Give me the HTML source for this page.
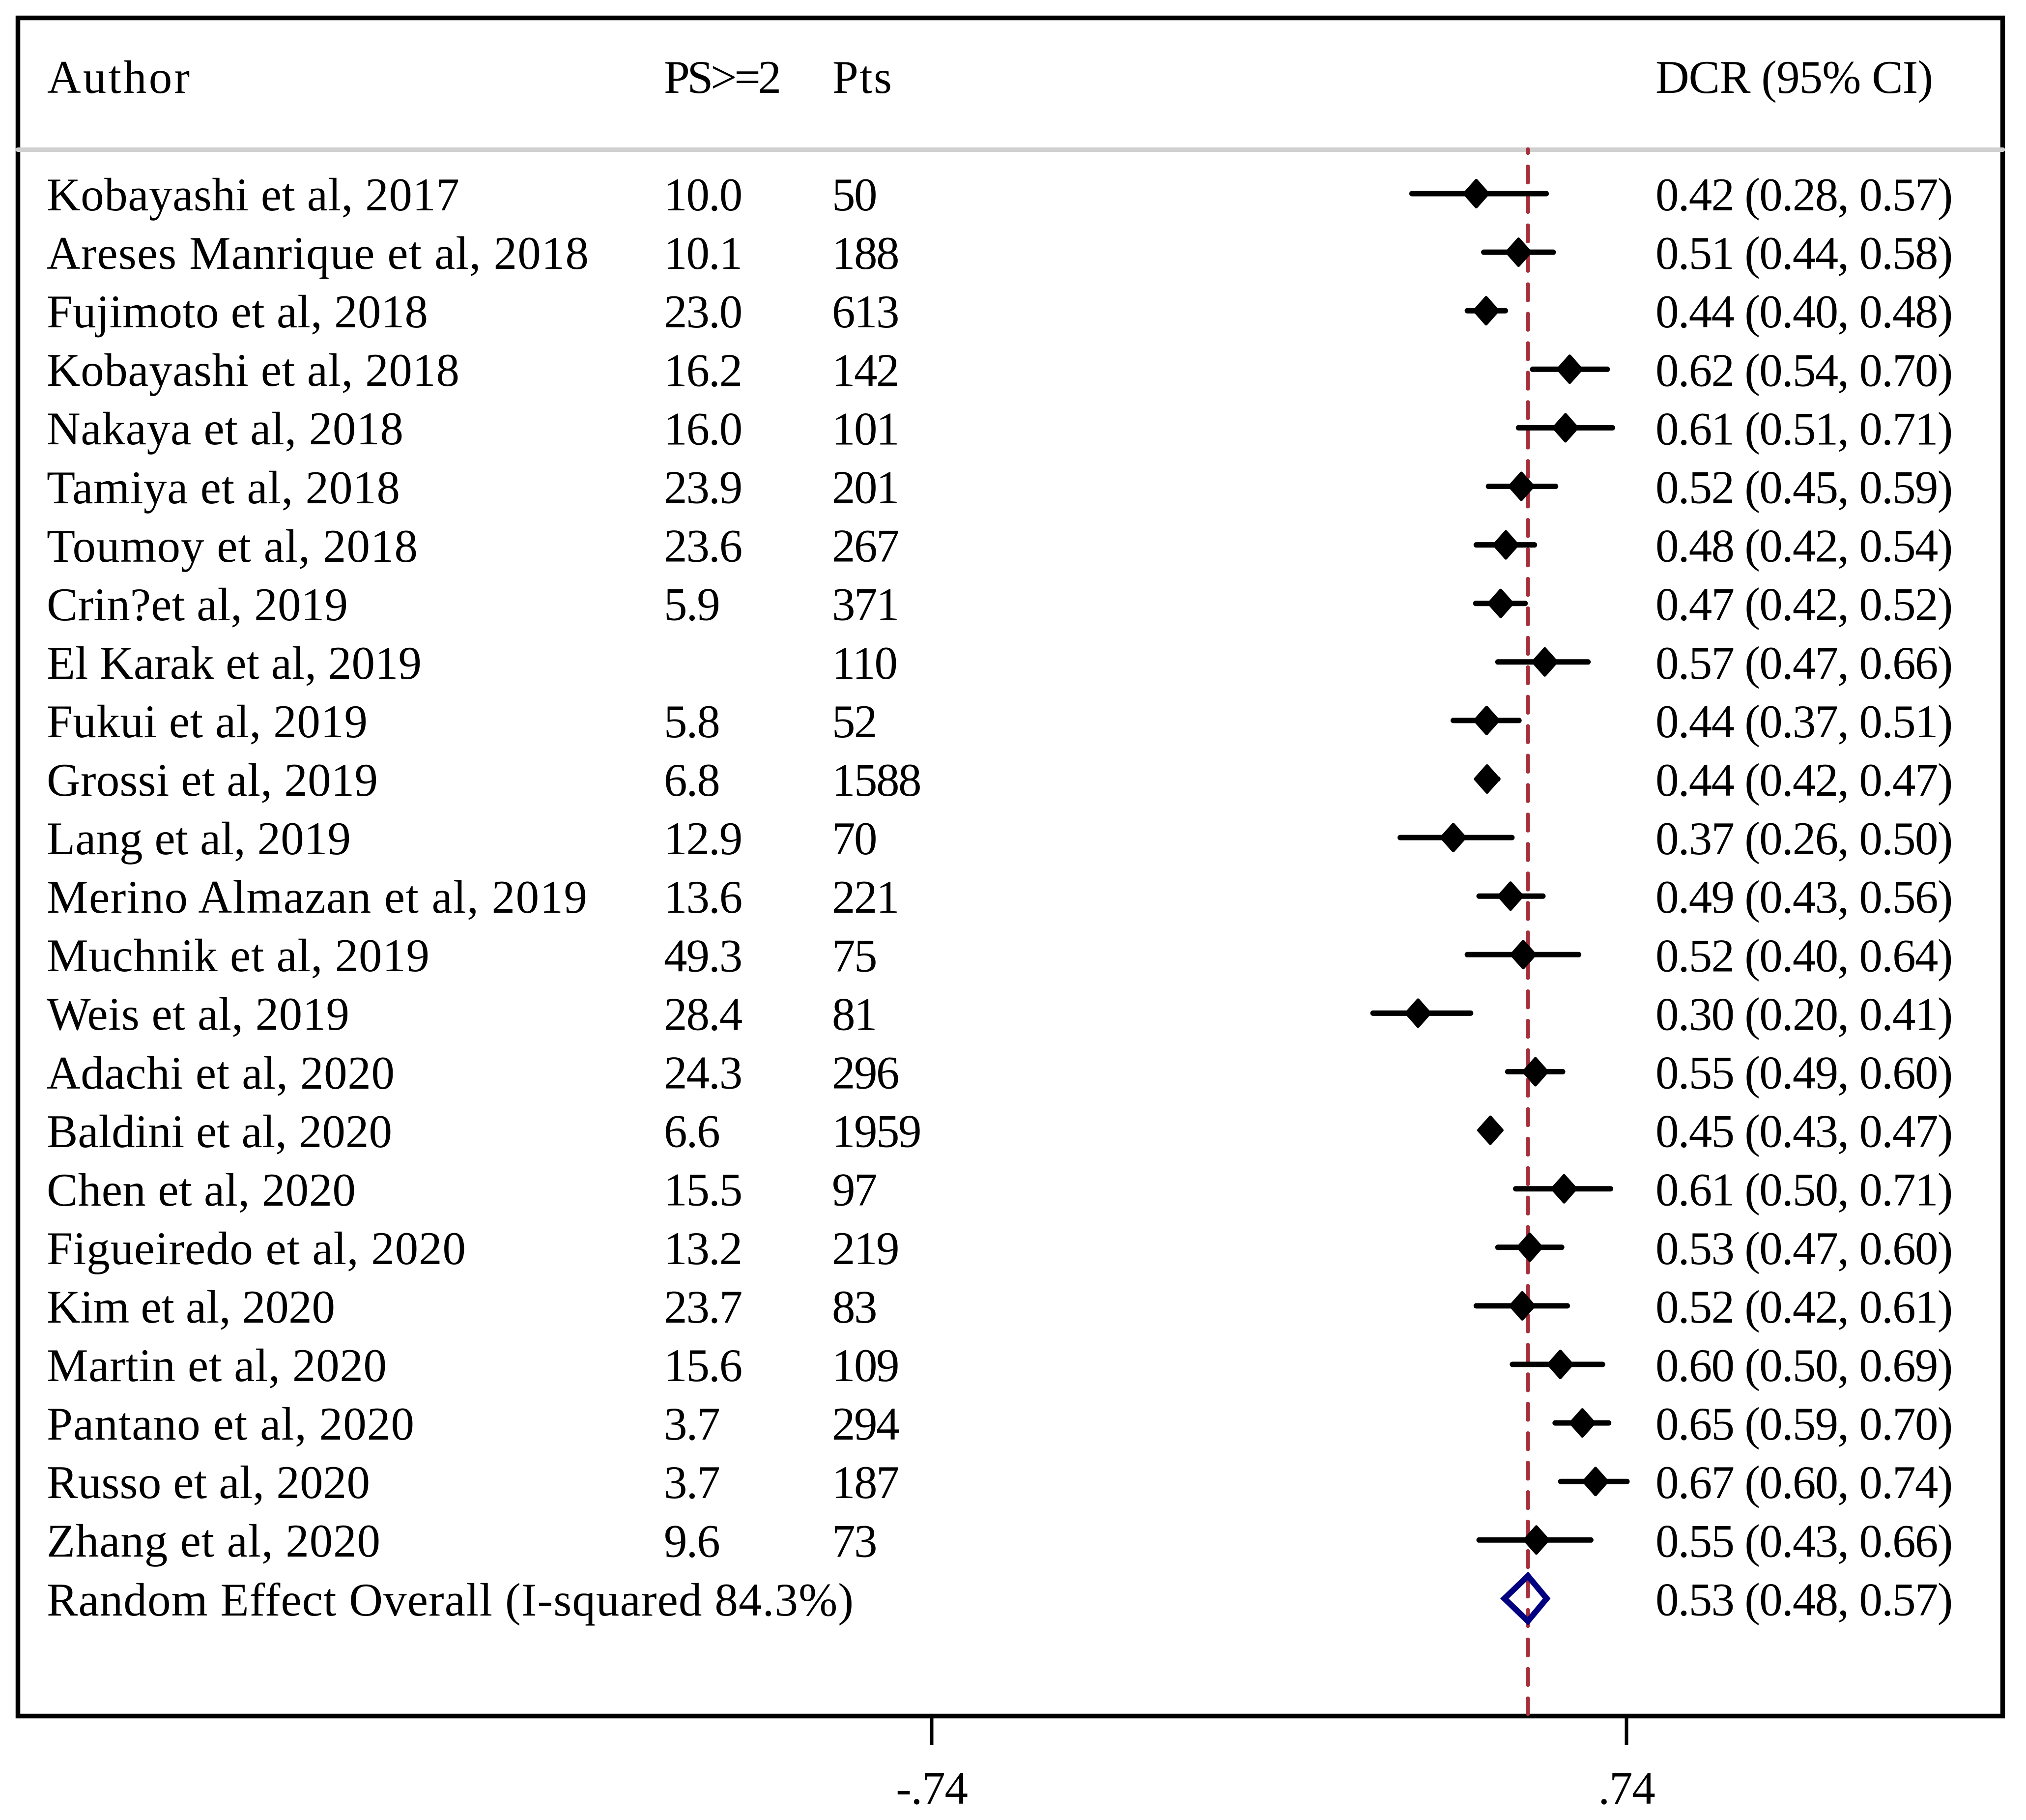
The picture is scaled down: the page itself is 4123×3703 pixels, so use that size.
<!DOCTYPE html>
<html lang="en">
<head>
<meta charset="utf-8">
<title>Forest plot of DCR</title>
<style>
html,body{margin:0;padding:0;background:#fff;}
svg{display:block;}
text{font-family:"Liberation Serif",serif;font-size:95px;fill:#000;}
.ps{letter-spacing:-2px;}
.pts{letter-spacing:-2.5px;}
.dcr{letter-spacing:-1.75px;}
.tick-label{letter-spacing:-1.2px;}
</style>
</head>
<body>
<svg id="chart" xmlns="http://www.w3.org/2000/svg" width="4123" height="3703" viewBox="0 0 4123 3703">
  <rect x="0" y="0" width="4123" height="3703" fill="#fff"/>
  <rect x="36.5" y="36.5" width="4039" height="3455" fill="none" stroke="#000" stroke-width="9.5"/>
  <line x1="36" y1="304.5" x2="4076" y2="304.5" stroke="#d0d0d0" stroke-width="9" stroke-linecap="round"/>
  <text x="96" y="189" textLength="290" lengthAdjust="spacing">Author</text>
  <text x="1351" y="189" textLength="239" lengthAdjust="spacing">PS&gt;=2</text>
  <text x="1694" y="189" textLength="121" lengthAdjust="spacing">Pts</text>
  <text x="3369" y="189" textLength="565" lengthAdjust="spacing">DCR (95% CI)</text>
  <g id="reference-layer"></g>
  <g id="axis-layer"></g>
  <g id="author-labels">
    <text x="95" y="428" textLength="840" lengthAdjust="spacing">Kobayashi et al, 2017</text>
    <text x="95" y="547" textLength="1103" lengthAdjust="spacing">Areses Manrique et al, 2018</text>
    <text x="95" y="666" textLength="776" lengthAdjust="spacing">Fujimoto et al, 2018</text>
    <text x="95" y="785" textLength="840" lengthAdjust="spacing">Kobayashi et al, 2018</text>
    <text x="95" y="904" textLength="726" lengthAdjust="spacing">Nakaya et al, 2018</text>
    <text x="95" y="1024" textLength="719" lengthAdjust="spacing">Tamiya et al, 2018</text>
    <text x="95" y="1143" textLength="755" lengthAdjust="spacing">Toumoy et al, 2018</text>
    <text x="95" y="1262" textLength="613" lengthAdjust="spacing">Crin?et al, 2019</text>
    <text x="95" y="1381" textLength="763" lengthAdjust="spacing">El Karak et al, 2019</text>
    <text x="95" y="1500" textLength="653" lengthAdjust="spacing">Fukui et al, 2019</text>
    <text x="95" y="1619" textLength="674" lengthAdjust="spacing">Grossi et al, 2019</text>
    <text x="95" y="1738" textLength="619" lengthAdjust="spacing">Lang et al, 2019</text>
    <text x="95" y="1857" textLength="1100" lengthAdjust="spacing">Merino Almazan et al, 2019</text>
    <text x="95" y="1976" textLength="779" lengthAdjust="spacing">Muchnik et al, 2019</text>
    <text x="95" y="2095" textLength="616" lengthAdjust="spacing">Weis et al, 2019</text>
    <text x="95" y="2215" textLength="708" lengthAdjust="spacing">Adachi et al, 2020</text>
    <text x="95" y="2334" textLength="703" lengthAdjust="spacing">Baldini et al, 2020</text>
    <text x="95" y="2453" textLength="629" lengthAdjust="spacing">Chen et al, 2020</text>
    <text x="95" y="2572" textLength="853" lengthAdjust="spacing">Figueiredo et al, 2020</text>
    <text x="95" y="2691" textLength="587" lengthAdjust="spacing">Kim et al, 2020</text>
    <text x="95" y="2810" textLength="692" lengthAdjust="spacing">Martin et al, 2020</text>
    <text x="95" y="2929" textLength="748" lengthAdjust="spacing">Pantano et al, 2020</text>
    <text x="95" y="3048" textLength="658" lengthAdjust="spacing">Russo et al, 2020</text>
    <text x="95" y="3167" textLength="679" lengthAdjust="spacing">Zhang et al, 2020</text>
    <text x="95" y="3287" textLength="1642" lengthAdjust="spacing">Random Effect Overall (I-squared 84.3%)</text>
  </g>
  <g id="rows-layer"></g>
  <g id="overall-layer"></g>
</svg>
<script>
const psValues = ["10.0","10.1","23.0","16.2","16.0","23.9","23.6","5.9","","5.8","6.8","12.9","13.6","49.3","28.4","24.3","6.6","15.5","13.2","23.7","15.6","3.7","3.7","9.6"];
const patients = [50,188,613,142,101,201,267,371,110,52,1588,70,221,75,81,296,1959,97,219,83,109,294,187,73];
const dcr = [0.420,0.510,0.441,0.619,0.610,0.516,0.483,0.472,0.566,0.442,0.443,0.371,0.493,0.520,0.296,0.546,0.450,0.607,0.534,0.518,0.599,0.646,0.674,0.548];
const ciLow = [0.283,0.436,0.401,0.540,0.510,0.446,0.420,0.419,0.466,0.371,0.422,0.258,0.426,0.401,0.200,0.487,0.432,0.504,0.466,0.420,0.497,0.588,0.600,0.426];
const ciHigh = [0.569,0.584,0.482,0.699,0.710,0.589,0.544,0.524,0.658,0.511,0.466,0.496,0.562,0.638,0.408,0.604,0.466,0.706,0.602,0.614,0.689,0.702,0.741,0.664];
const overallDcr = 0.53;
const overallLow = 0.48;
const overallHigh = 0.57;
const tickValues = [-0.74, 0.74];
const tickLabels = ["-.74", ".74"];

const SVGNS = "http://www.w3.org/2000/svg";
function xScale(v){ return 2603 + v * 955.4; }
function yRow(i){ return 394 + i * 119.1; }
function fmt(m, l, h){ return m.toFixed(2) + " (" + l.toFixed(2) + ", " + h.toFixed(2) + ")"; }
function make(tag, attrs, parent, content){
  const el = document.createElementNS(SVGNS, tag);
  for (const k in attrs) el.setAttribute(k, attrs[k]);
  if (content !== undefined) el.textContent = content;
  parent.appendChild(el);
  return el;
}

const refLayer = document.getElementById("reference-layer");
const axisLayer = document.getElementById("axis-layer");
const rowsLayer = document.getElementById("rows-layer");
const overallLayer = document.getElementById("overall-layer");

const refLine = make("line", {x1:xScale(overallDcr), x2:xScale(overallDcr), y1:304, y2:3487, stroke:"#a5303c", "stroke-width":8.5, "stroke-dasharray":"32 27.94", "stroke-dashoffset":25, "stroke-linecap":"round"}, refLayer);



tickValues.forEach(function(t, i){
  const tick = make("line", {x1:xScale(t), x2:xScale(t), y1:3496, y2:3550, stroke:"#000", "stroke-width":7}, axisLayer);
  
  
  const lab = make("text", {x:xScale(t), y:3670, "text-anchor":"middle", "class":"tick-label"}, axisLayer, tickLabels[i]);
  
  
});

dcr.forEach(function(value, i){
  const y = yRow(i), base = y + 34;
  if (psValues[i] !== "") {
    const p = make("text", {x:1351, y:base, "class":"ps"}, rowsLayer, psValues[i]);
    
    
  }
  const n = make("text", {x:1693, y:base, "class":"pts"}, rowsLayer, String(patients[i]));
  
  
  const c = make("text", {x:3369, y:base, "class":"dcr"}, rowsLayer, fmt(value, ciLow[i], ciHigh[i]));
  
  
  const ci = make("line", {x1:xScale(ciLow[i]), x2:xScale(ciHigh[i]), y1:y, y2:y, stroke:"#000", "stroke-width":11, "stroke-linecap":"round"}, rowsLayer);
  
  
  const cx = xScale(value);
  const d = make("polygon", {points:(cx-24)+","+y+" "+cx+","+(y-27)+" "+(cx+24)+","+y+" "+cx+","+(y+27), fill:"#000", stroke:"#000", "stroke-width":6, "stroke-linejoin":"round"}, rowsLayer);
  
  
});

(function(){
  const y = yRow(dcr.length), base = y + 34;
  const val = make("text", {x:3369, y:base, "class":"dcr"}, overallLayer, fmt(overallDcr, overallLow, overallHigh));
  
  
  const cx = xScale(overallDcr);
  const d = make("polygon", {points:xScale(overallLow)+","+y+" "+cx+","+(y-46)+" "+xScale(overallHigh)+","+y+" "+cx+","+(y+46), fill:"none", stroke:"#000080", "stroke-width":12, "stroke-linejoin":"miter", "stroke-miterlimit":6}, overallLayer);
  
  
})();
</script>
</body>
</html>
